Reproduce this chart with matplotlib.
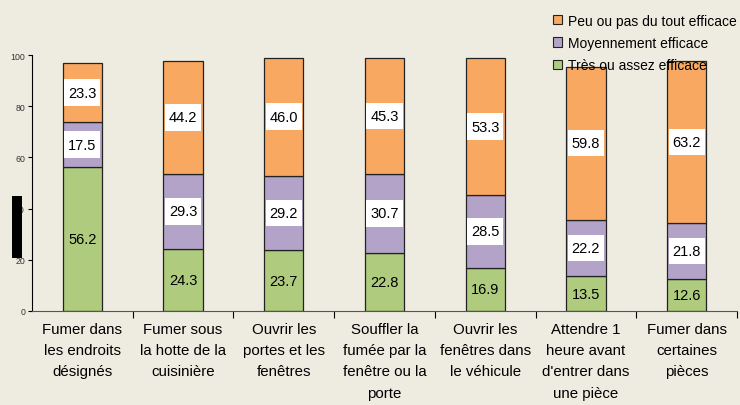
import matplotlib.pyplot as plt
from matplotlib.patches import Rectangle, Patch
import numpy as np

plt.rcParams['font.family'] = ['Liberation Sans', 'DejaVu Sans']

categories = ["Fumer dans\nles endroits\ndésignés",
              "Fumer sous\nla hotte de la\ncuisinière",
              "Ouvrir les\nportes et les\nfenêtres",
              "Souffler la\nfumée par la\nfenêtre ou la\nporte",
              "Ouvrir les\nfenêtres dans\nle véhicule",
              "Attendre 1\nheure avant\nd'entrer dans\nune pièce",
              "Fumer dans\ncertaines\npièces"]
tres = [56.2, 24.3, 23.7, 22.8, 16.9, 13.5, 12.6]
moyen = [17.5, 29.3, 29.2, 30.7, 28.5, 22.2, 21.8]
peu = [23.3, 44.2, 46.0, 45.3, 53.3, 59.8, 63.2]
yticks = [0, 20, 40, 60, 80, 100]

bg = '#EEECE1'
c_green = '#AFCB7E'
c_purple = '#B3A3C8'
c_orange = '#F9A862'

fig = plt.figure(figsize=(7.4, 4.06), dpi=100, facecolor=bg)
ax = fig.add_axes([32/740, 94/406, 705/740, 256/406], facecolor=bg)

x = np.arange(len(categories))
w = 0.39
tres = np.array(tres)
moyen = np.array(moyen)
peu = np.array(peu)

ax.bar(x, tres, w, color=c_green, edgecolor='#222222', linewidth=0.9)
ax.bar(x, moyen, w, bottom=tres, color=c_purple, edgecolor='#222222', linewidth=0.9)
ax.bar(x, peu, w, bottom=tres + moyen, color=c_orange, edgecolor='#222222', linewidth=0.9)

# white label boxes behind the purple and orange values
box_h = 10.4
mid_moyen = tres + moyen / 2
mid_peu = tres + moyen + peu / 2
ax.bar(x, box_h, 0.36, bottom=mid_moyen - box_h / 2, color='white', zorder=3)
ax.bar(x, box_h, 0.36, bottom=mid_peu - box_h / 2, color='white', zorder=3)

# value labels
for i in range(len(x)):
    ax.text(x[i], tres[i] / 2, f"{tres[i]:.1f}", ha='center', va='center', fontsize=10.5, zorder=4)
    ax.text(x[i], mid_moyen[i], f"{moyen[i]:.1f}", ha='center', va='center', fontsize=10.5, zorder=4)
    ax.text(x[i], mid_peu[i], f"{peu[i]:.1f}", ha='center', va='center', fontsize=10.5, zorder=4)

ax.set_xlim(-0.5, len(x) - 0.5)
ax.set_ylim(0, 100)
ax.set_yticks(yticks)
ax.set_yticklabels([str(t) for t in yticks], fontsize=6.3, color='#333333')
ax.tick_params(axis='y', length=3, width=0.8, pad=2)

ax.set_xticks(x)
ax.set_xticklabels(categories, fontsize=10.8, linespacing=1.65)
ax.tick_params(axis='x', which='major', length=0, pad=8)
ax.set_xticks(np.arange(len(x)) + 0.5, minor=True)
ax.tick_params(axis='x', which='minor', length=5, width=0.8)

for s in ['top', 'right']:
    ax.spines[s].set_visible(False)
ax.spines['left'].set_linewidth(0.8)
ax.spines['bottom'].set_linewidth(0.8)
ax.spines['bottom'].set_color('#555555')

handles = [Patch(fc=c_orange, ec='#222222', lw=0.8),
           Patch(fc=c_purple, ec='#222222', lw=0.8),
           Patch(fc=c_green, ec='#222222', lw=0.8)]
labels = ["Peu ou pas du tout efficace", "Moyennement efficace", "Très ou assez efficace"]
fig.legend(handles, labels, loc='upper left', bbox_to_anchor=(547/740, 1 - 9/406),
           frameon=False, fontsize=10, handlelength=0.65, handleheight=0.65,
           handletextpad=0.45, labelspacing=0.6, borderaxespad=0)

# black block over the y tick labels
fig.patches.append(Rectangle((12/740, 1 - 259/406), 10/740, 62/406,
                             transform=fig.transFigure, fc='black', ec='none', zorder=10))

fig.savefig('out.png', dpi=100, facecolor=bg)
